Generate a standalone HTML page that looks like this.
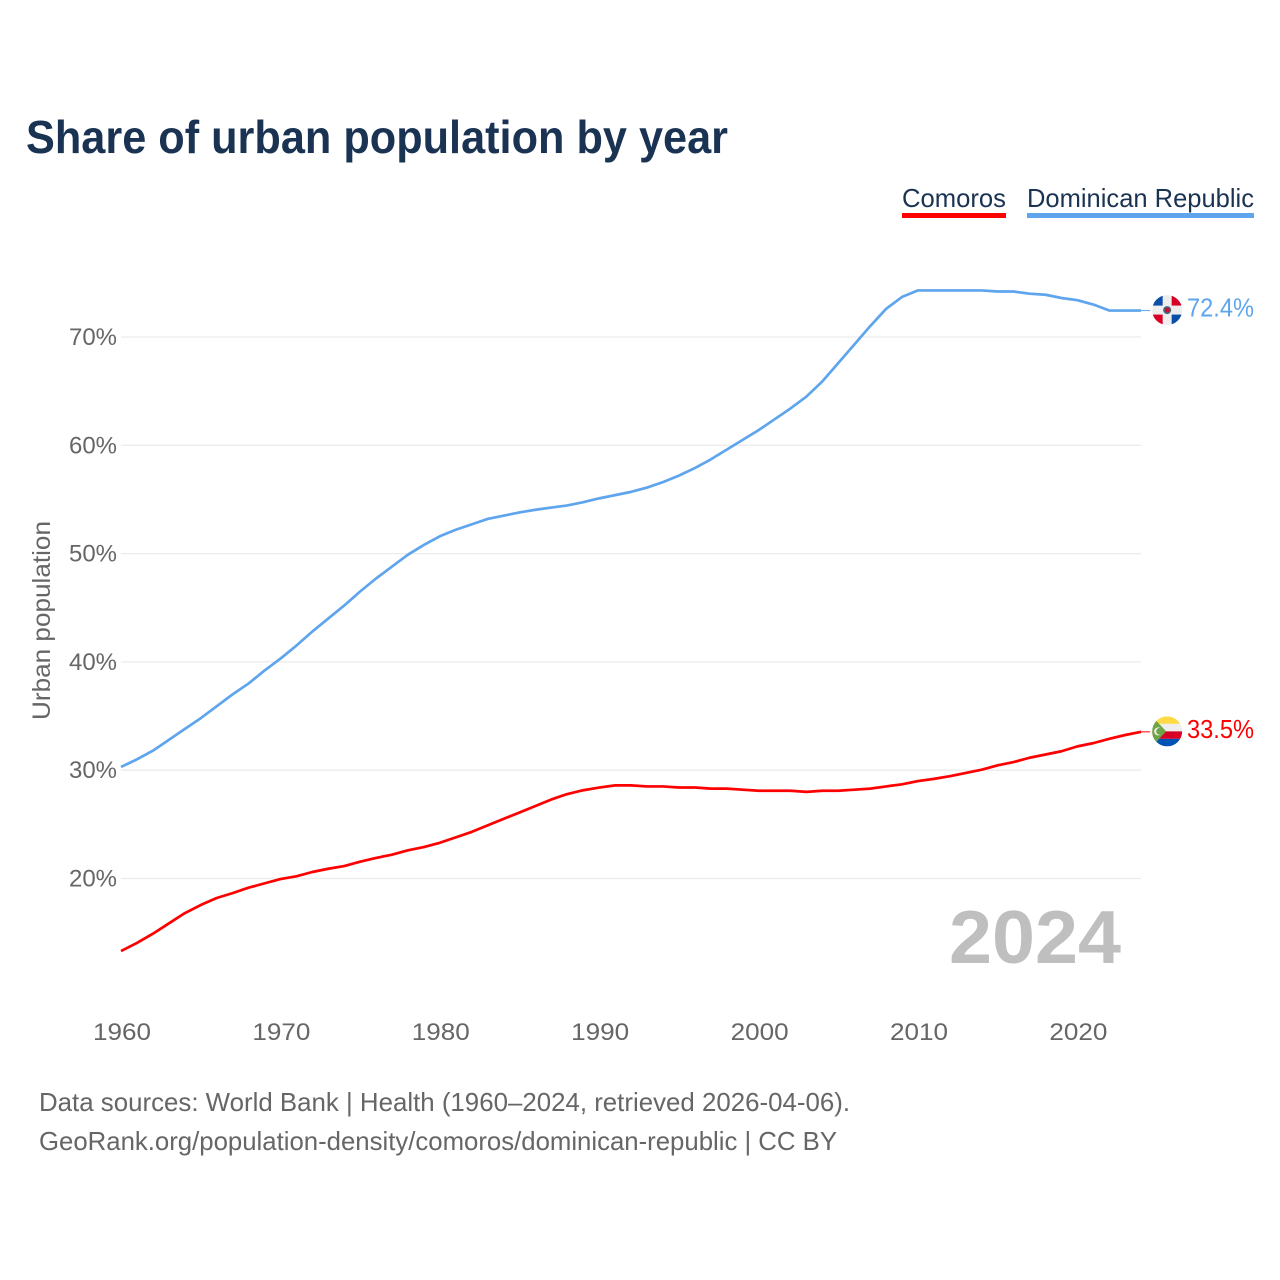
<!DOCTYPE html>
<html lang="en">
<head>
<meta charset="utf-8">
<title>Share of urban population by year</title>
<style>
html,body{margin:0;padding:0;background:#fff}
svg{display:block}
text{font-family:"Liberation Sans",sans-serif}
</style>
</head>
<body>
<svg id="chart" xmlns="http://www.w3.org/2000/svg" width="1280" height="1280" viewBox="0 0 1280 1280">
<defs>
<clipPath id="flag-clip"><circle cx="0" cy="0" r="15"/></clipPath>
</defs>
<rect width="1280" height="1280" fill="#fff"/>
<text x="26" y="153" font-size="46" font-weight="700" fill="#1a3353" textLength="702" lengthAdjust="spacingAndGlyphs">Share of urban population by year</text>

<g>
<text x="902" y="207" font-size="26" fill="#1a3353" textLength="104" lengthAdjust="spacingAndGlyphs">Comoros</text>
<rect x="902" y="213" width="104" height="5" fill="#ff0000"/>
</g>
<g>
<text x="1027" y="207" font-size="26" fill="#1a3353" textLength="227" lengthAdjust="spacingAndGlyphs">Dominican Republic</text>
<rect x="1027" y="213" width="227" height="5" fill="#5ea5ee"/>
</g>

<text transform="translate(50,620.5) rotate(-90)" text-anchor="middle" font-size="25" fill="#666" textLength="199" lengthAdjust="spacingAndGlyphs">Urban population</text>

<g id="grid"></g>
<g id="y-axis"></g>
<g id="x-axis"></g>
<g id="series"></g>

<text x="1121" y="963" text-anchor="end" font-size="75" font-weight="700" fill="#bfbfbf" textLength="172" lengthAdjust="spacingAndGlyphs">2024</text>

<g id="flag-do" clip-path="url(#flag-clip)">
<rect x="-15" y="-15" width="30" height="30" fill="#eeeeee"/>
<rect x="-15" y="-15" width="10.5" height="10.5" fill="#0a4fa8"/>
<rect x="4.5" y="-15" width="10.5" height="10.5" fill="#d80027"/>
<rect x="-15" y="4.5" width="10.5" height="10.5" fill="#d80027"/>
<rect x="4.5" y="4.5" width="10.5" height="10.5" fill="#0a4fa8"/>
<circle cx="0" cy="0" r="4" fill="#4a6178"/>
<rect x="-2" y="-2" width="4" height="4" fill="#c8102e"/>
</g>
<g id="flag-km" clip-path="url(#flag-clip)">
<rect x="-15" y="-15" width="30" height="7.5" fill="#ffda44"/>
<rect x="-15" y="-7.5" width="30" height="7.5" fill="#eeeeee"/>
<rect x="-15" y="0" width="30" height="7.5" fill="#d80027"/>
<rect x="-15" y="7.5" width="30" height="7.5" fill="#0052b4"/>
<polygon points="-15,-15 -1,0 -15,15" fill="#6da544"/>
<circle cx="-9" cy="0" r="4" fill="#eeeeee"/>
<circle cx="-7.6" cy="0" r="3.4" fill="#6da544"/>
</g>
<g id="value-labels"></g>

<text x="39" y="1111" font-size="26" fill="#666" textLength="811" lengthAdjust="spacingAndGlyphs">Data sources: World Bank | Health (1960–2024, retrieved 2026-04-06).</text>
<text x="39" y="1150" font-size="26" fill="#666" textLength="798" lengthAdjust="spacingAndGlyphs">GeoRank.org/population-density/comoros/dominican-republic | CC BY</text>
</svg>
<script>
var startYear = 1960;
var yTicks = [20, 30, 40, 50, 60, 70];
var xTicks = [1960, 1970, 1980, 1990, 2000, 2010, 2020];
var comorosValues = [13.3,14.05,14.9,15.85,16.8,17.55,18.2,18.65,19.15,19.55,19.95,20.2,20.6,20.9,21.15,21.55,21.9,22.2,22.6,22.9,23.3,23.8,24.3,24.9,25.5,26.1,26.7,27.3,27.8,28.15,28.4,28.6,28.6,28.5,28.5,28.4,28.4,28.3,28.3,28.2,28.1,28.1,28.1,28.0,28.1,28.1,28.2,28.3,28.5,28.7,29.0,29.2,29.45,29.75,30.05,30.45,30.75,31.15,31.45,31.75,32.2,32.5,32.9,33.25,33.54];
var dominicanValues = [30.3,31.0,31.8,32.8,33.8,34.8,35.9,37.0,38.0,39.2,40.3,41.5,42.8,44.0,45.2,46.5,47.7,48.8,49.9,50.8,51.6,52.2,52.7,53.2,53.5,53.8,54.05,54.25,54.45,54.75,55.1,55.4,55.7,56.1,56.6,57.2,57.9,58.7,59.6,60.5,61.4,62.4,63.4,64.5,65.9,67.6,69.3,71.0,72.6,73.7,74.3,74.3,74.3,74.3,74.3,74.2,74.2,74.0,73.9,73.6,73.4,73.0,72.45,72.44,72.44];

var NS = 'http://www.w3.org/2000/svg';
function xScale(year) { return 121 + (year - 1960) * 15.94; }
function yScale(v) { return 878.5 - (v - 20) * 10.83; }
function make(tag, parent) {
  var el = document.createElementNS(NS, tag);
  document.getElementById(parent).appendChild(el);
  return el;
}

yTicks.forEach(function (t) {
  var line = make('line', 'grid');
  
  
  line.setAttribute('x1', 121);
  line.setAttribute('x2', 1141);
  line.setAttribute('y1', yScale(t));
  line.setAttribute('y2', yScale(t));
  line.setAttribute('stroke', '#ececec');
  line.setAttribute('stroke-width', 1.3);
  var label = make('text', 'y-axis');
  
  
  label.setAttribute('x', 117);
  label.setAttribute('y', yScale(t) + 8);
  label.setAttribute('text-anchor', 'end');
  label.setAttribute('font-size', 24);
  label.setAttribute('fill', '#666');
  label.setAttribute('textLength', 48);
  label.setAttribute('lengthAdjust', 'spacingAndGlyphs');
  label.textContent = t + '%';
});

xTicks.forEach(function (t) {
  var label = make('text', 'x-axis');
  
  
  label.setAttribute('x', xScale(t) + 1);
  label.setAttribute('y', 1040);
  label.setAttribute('text-anchor', 'middle');
  label.setAttribute('font-size', 24);
  label.setAttribute('fill', '#666');
  label.setAttribute('textLength', 58);
  label.setAttribute('lengthAdjust', 'spacingAndGlyphs');
  label.textContent = String(t);
});

function drawSeries(values, color, lineName, connectorName, labelName, flagId) {
  var pts = values.map(function (v, i) {
    return xScale(startYear + i).toFixed(2) + ',' + yScale(v).toFixed(2);
  }).join(' ');
  var line = make('polyline', 'series');
  
  
  line.setAttribute('points', pts);
  line.setAttribute('fill', 'none');
  line.setAttribute('stroke', color);
  line.setAttribute('stroke-width', 2.7);
  line.setAttribute('stroke-linejoin', 'round');
  var last = values[values.length - 1];
  var lastX = xScale(startYear + values.length - 1);
  var lastY = yScale(last);
  var connector = make('line', 'series');
  
  
  connector.setAttribute('x1', lastX);
  connector.setAttribute('x2', lastX + 9);
  connector.setAttribute('y1', lastY);
  connector.setAttribute('y2', lastY);
  connector.setAttribute('stroke', color);
  connector.setAttribute('stroke-width', 1);
  document.getElementById(flagId).setAttribute('transform', 'translate(' + (lastX + 26) + ',' + (lastY - 0.5) + ')');
  var label = make('text', 'value-labels');
  
  
  label.setAttribute('x', 1254);
  label.setAttribute('y', lastY + 6);
  label.setAttribute('text-anchor', 'end');
  label.setAttribute('font-size', 26);
  label.setAttribute('fill', color);
  label.setAttribute('textLength', 67);
  label.setAttribute('lengthAdjust', 'spacingAndGlyphs');
  label.textContent = last.toFixed(1) + '%';
}

drawSeries(dominicanValues, '#5ea5ee', 'line-dominican-republic', 'connector-dominican-republic', 'value-label-dominican-republic', 'flag-do');
drawSeries(comorosValues, '#ff0000', 'line-comoros', 'connector-comoros', 'value-label-comoros', 'flag-km');
</script>
</body>
</html>
